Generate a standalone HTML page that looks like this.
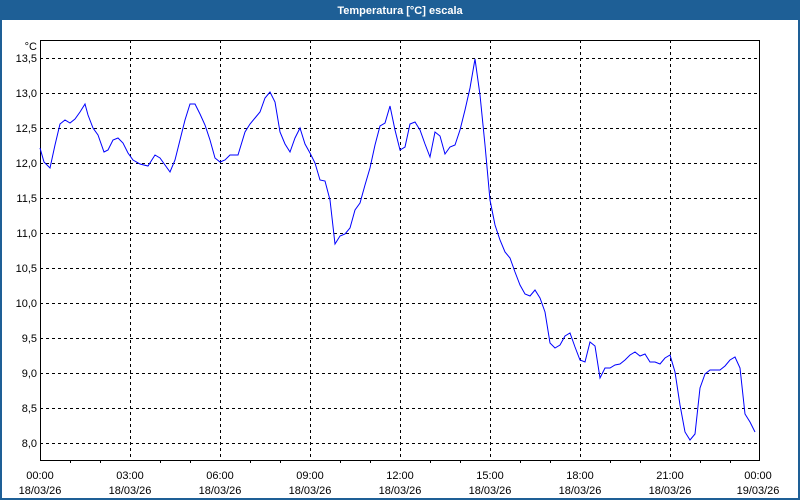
<!DOCTYPE html>
<html><head><meta charset="utf-8"><style>
html,body{margin:0;padding:0;width:800px;height:500px;overflow:hidden;background:#fff;font-family:"Liberation Sans",sans-serif;}
</style></head><body>
<svg width="800" height="500" xmlns="http://www.w3.org/2000/svg" font-family="Liberation Sans, sans-serif" font-size="11">
<rect x="0" y="0" width="800" height="500" fill="#1e5f96"/>
<rect x="2" y="20" width="796" height="478" fill="#fff"/>
<text x="400" y="14" fill="#fff" font-weight="bold" text-anchor="middle" font-size="11">Temperatura [°C] escala</text>
<g stroke="#000" stroke-dasharray="3,3" stroke-width="1">
<line x1="40" y1="58.5" x2="760" y2="58.5"/><line x1="40" y1="93.5" x2="760" y2="93.5"/>
<line x1="40" y1="128.5" x2="760" y2="128.5"/><line x1="40" y1="163.5" x2="760" y2="163.5"/>
<line x1="40" y1="198.5" x2="760" y2="198.5"/><line x1="40" y1="233.5" x2="760" y2="233.5"/>
<line x1="40" y1="268.5" x2="760" y2="268.5"/><line x1="40" y1="303.5" x2="760" y2="303.5"/>
<line x1="40" y1="338.5" x2="760" y2="338.5"/><line x1="40" y1="373.5" x2="760" y2="373.5"/>
<line x1="40" y1="408.5" x2="760" y2="408.5"/><line x1="40" y1="443.5" x2="760" y2="443.5"/>
<line x1="130.5" y1="40" x2="130.5" y2="460"/><line x1="220.5" y1="40" x2="220.5" y2="460"/>
<line x1="310.5" y1="40" x2="310.5" y2="460"/><line x1="400.5" y1="40" x2="400.5" y2="460"/>
<line x1="490.5" y1="40" x2="490.5" y2="460"/><line x1="580.5" y1="40" x2="580.5" y2="460"/>
<line x1="670.5" y1="40" x2="670.5" y2="460"/>
</g>
<rect x="40.5" y="40.5" width="719" height="420" fill="none" stroke="#000"/>
<g stroke="#000">
<line x1="70.5" y1="460" x2="70.5" y2="463"/><line x1="100.5" y1="460" x2="100.5" y2="463"/>
<line x1="160.5" y1="460" x2="160.5" y2="463"/><line x1="190.5" y1="460" x2="190.5" y2="463"/>
<line x1="250.5" y1="460" x2="250.5" y2="463"/><line x1="280.5" y1="460" x2="280.5" y2="463"/>
<line x1="340.5" y1="460" x2="340.5" y2="463"/><line x1="370.5" y1="460" x2="370.5" y2="463"/>
<line x1="430.5" y1="460" x2="430.5" y2="463"/><line x1="460.5" y1="460" x2="460.5" y2="463"/>
<line x1="520.5" y1="460" x2="520.5" y2="463"/><line x1="550.5" y1="460" x2="550.5" y2="463"/>
<line x1="610.5" y1="460" x2="610.5" y2="463"/><line x1="640.5" y1="460" x2="640.5" y2="463"/>
<line x1="700.5" y1="460" x2="700.5" y2="463"/><line x1="730.5" y1="460" x2="730.5" y2="463"/>
</g>
<g text-anchor="end" fill="#000">
<text x="37" y="50">°C</text>
<text x="37" y="62">13,5</text><text x="37" y="97">13,0</text><text x="37" y="132">12,5</text>
<text x="37" y="167">12,0</text><text x="37" y="202">11,5</text><text x="37" y="237">11,0</text>
<text x="37" y="272">10,5</text><text x="37" y="307">10,0</text><text x="37" y="342">9,5</text>
<text x="37" y="377">9,0</text><text x="37" y="412">8,5</text><text x="37" y="447">8,0</text>
</g>
<g text-anchor="middle" fill="#000">
<text x="40" y="479">00:00</text><text x="40" y="494">18/03/26</text>
<text x="130" y="479">03:00</text><text x="130" y="494">18/03/26</text>
<text x="220" y="479">06:00</text><text x="220" y="494">18/03/26</text>
<text x="310" y="479">09:00</text><text x="310" y="494">18/03/26</text>
<text x="400" y="479">12:00</text><text x="400" y="494">18/03/26</text>
<text x="490" y="479">15:00</text><text x="490" y="494">18/03/26</text>
<text x="580" y="479">18:00</text><text x="580" y="494">18/03/26</text>
<text x="670" y="479">21:00</text><text x="670" y="494">18/03/26</text>
<text x="758" y="479">00:00</text><text x="758" y="494">19/03/26</text>
</g>
<polyline fill="none" stroke="#0000ff" stroke-width="1" points="40,148 44,162 50,168 55,145 60,124 65,120 70,123 75,119 80,112 85,104 88,115 93,128 98,135 104,152 108,150 113,140 118,138 123,143 128,153 133,160 140,164 148,166 155,155 160,158 165,165 170,172 175,160 180,140 185,120 190,104 195,104 200,114 205,125 210,140 215,158 220,162 225,160 230,155 238,155 245,132 250,124 255,118 260,112 265,98 270,92 275,102 280,132 285,144 290,152 295,138 300,128 305,144 310,153 315,163 320,180 325,181 330,200 335,244 340,236 345,234 350,228 355,210 360,203 365,185 370,168 375,145 380,126 385,123 390,106 395,130 400,150 405,147 410,124 415,122 420,130 425,144 430,157 435,132 440,136 445,154 450,147 455,145 460,130 465,110 470,88 475,59 480,95 485,145 490,200 495,225 500,240 505,252 510,258 515,272 520,285 525,294 530,296 535,290 540,298 545,312 550,343 555,348 560,345 565,336 570,333 575,347 580,360 585,362 590,342 595,346 600,378 605,368 610,368 615,365 620,364 625,360 630,355 635,352 640,356 645,354 650,362 655,362 660,364 665,358 670,355 675,372 680,405 685,432 690,440 695,434 700,388 705,374 710,370 715,370 720,370 725,366 730,360 735,357 740,368 745,414 750,422 755,432"/>
</svg>
</body></html>
